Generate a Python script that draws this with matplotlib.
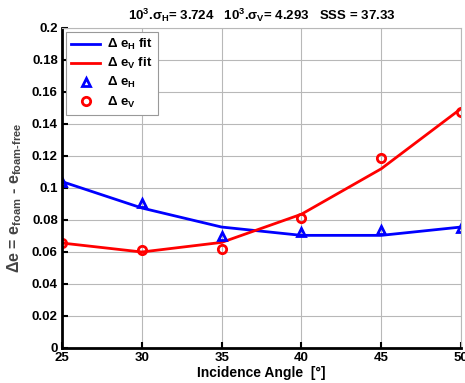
import matplotlib
matplotlib.use('Agg')
import matplotlib.pyplot as plt

# incidence angles [deg]
angles = [25, 30, 35, 40, 45, 50]

# measured emissivity differences
de_h = [0.1037, 0.0906, 0.0700, 0.0725, 0.0740, 0.0750]
de_v = [0.0656, 0.0610, 0.0621, 0.0813, 0.1190, 0.1475]

# fitted curves
fit_h = [0.1040, 0.0875, 0.0756, 0.0704, 0.0704, 0.0756]
fit_v = [0.0656, 0.0600, 0.0660, 0.0836, 0.1120, 0.1496]

xticks = [25, 30, 35, 40, 45, 50]
yticks = [0, 0.02, 0.04, 0.06, 0.08, 0.1, 0.12, 0.14, 0.16, 0.18, 0.2]
ytick_labels = ['0', '0.02', '0.04', '0.06', '0.08', '0.1', '0.12', '0.14', '0.16', '0.18', '0.2']

plt.rcParams['font.family'] = ['Liberation Sans', 'DejaVu Sans']
plt.rcParams['font.weight'] = 'bold'
plt.rcParams['mathtext.fontset'] = 'custom'
plt.rcParams['mathtext.rm'] = 'Liberation Sans:bold'
plt.rcParams['mathtext.it'] = 'Liberation Sans:bold'
plt.rcParams['mathtext.bf'] = 'Liberation Sans:bold'
plt.rcParams['mathtext.default'] = 'rm'

fig = plt.figure(figsize=(4.65, 3.83), dpi=100)
ax = fig.add_axes([62 / 465, 35 / 383, 399 / 465, 320 / 383])

ax.plot(angles, fit_h, color='#0000ff', linewidth=2, label=r'$\Delta$ e$_{H}$ fit')
ax.plot(angles, fit_v, color='#ff0000', linewidth=2, label=r'$\Delta$ e$_{V}$ fit')
ax.plot(angles, de_h, linestyle='none', marker='^', markersize=6, markerfacecolor='none',
        markeredgecolor='#0000ff', markeredgewidth=2, label=r'$\Delta$ e$_{H}$')
ax.plot(angles, de_v, linestyle='none', marker='o', markersize=6, markerfacecolor='none',
        markeredgecolor='#ff0000', markeredgewidth=2, label=r'$\Delta$ e$_{V}$')

ax.set_xlim(25, 50)
ax.set_ylim(0, 0.2)
ax.set_xticks(xticks)
ax.set_yticks(yticks)
ax.set_yticklabels(ytick_labels)
ax.grid(True, color='#b8b8b8', linewidth=0.8)
ax.tick_params(direction='in', length=4, width=1.5, labelsize=9.5, pad=3)
for lbl in ax.get_xticklabels() + ax.get_yticklabels():
    lbl.set_fontweight('bold')

ax.spines['left'].set_linewidth(2)
ax.spines['bottom'].set_linewidth(2)
ax.spines['top'].set_color('#b8b8b8')
ax.spines['right'].set_color('#b8b8b8')
ax.spines['top'].set_linewidth(0.8)
ax.spines['right'].set_linewidth(0.8)

ax.set_xlabel(r'Incidence Angle  [°]', fontsize=10, fontweight='bold', labelpad=1)
ax.set_ylabel(r'$\Delta$e = e$_{foam}$ - e$_{foam\text{-}free}$', fontsize=11.5,
              fontweight='bold', color='#444444')
ax.yaxis.set_label_coords(-0.095, 0.47)
ax.set_title(r'10$^{3}$.$\sigma_{H}$= 3.724   10$^{3}$.$\sigma_{V}$= 4.293   SSS = 37.33',
             fontsize=9.5, fontweight='bold', pad=6)

leg = ax.legend(loc='upper left', fontsize=9.5, frameon=True, fancybox=False,
                edgecolor='#999999', framealpha=1, borderaxespad=0.3,
                handlelength=2.2, handletextpad=0.5, labelspacing=0.3)
leg.get_frame().set_linewidth(0.8)

fig.savefig('out.png', dpi=100)
